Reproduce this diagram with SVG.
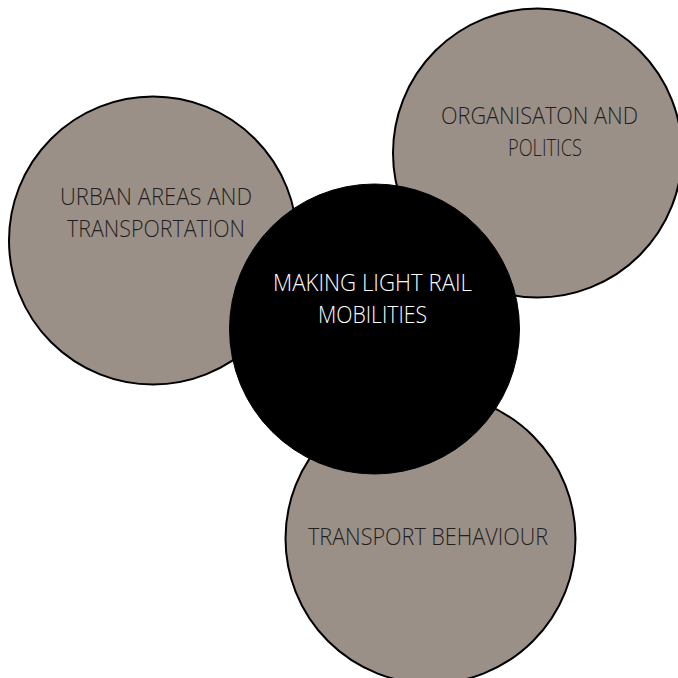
<svg xmlns="http://www.w3.org/2000/svg" width="678" height="678" viewBox="0 0 678 678">
<style>
.c{fill:#9b9087;stroke:#000;stroke-width:2}
.k{fill:#000;stroke:#000;stroke-width:1}
text{font-family:"Open Sans","Liberation Sans",Arial,sans-serif;font-weight:300;font-size:24px;text-anchor:middle}
.d{fill:#231f20}
.w{fill:#fff}
</style>
<rect width="678" height="678" fill="#fff"/>
<g id="urban">
<circle class="c" cx="153" cy="240.5" r="144"/>
<text class="d" x="156" y="205" textLength="192" lengthAdjust="spacingAndGlyphs">URBAN AREAS AND</text>
<text class="d" x="156" y="236.5" textLength="178" lengthAdjust="spacingAndGlyphs">TRANSPORTATION</text>
</g>
<g id="organisation">
<circle class="c" cx="537.5" cy="153" r="144.5"/>
<text class="d" x="539.5" y="124" textLength="197" lengthAdjust="spacingAndGlyphs">ORGANISATON AND</text>
<text class="d" x="545" y="155.5" textLength="74" lengthAdjust="spacingAndGlyphs">POLITICS</text>
</g>
<g id="behaviour">
<circle class="c" cx="430.5" cy="538.5" r="145"/>
<text class="d" x="428" y="545" textLength="240" lengthAdjust="spacingAndGlyphs">TRANSPORT BEHAVIOUR</text>
</g>
<g id="center">
<circle class="k" cx="374.5" cy="329" r="145"/>
<text class="w" x="372.5" y="291" textLength="199" lengthAdjust="spacingAndGlyphs">MAKING LIGHT RAIL</text>
<text class="w" x="372.5" y="323" textLength="109" lengthAdjust="spacingAndGlyphs">MOBILITIES</text>
</g>
<g id="connectors"/>
</svg>
